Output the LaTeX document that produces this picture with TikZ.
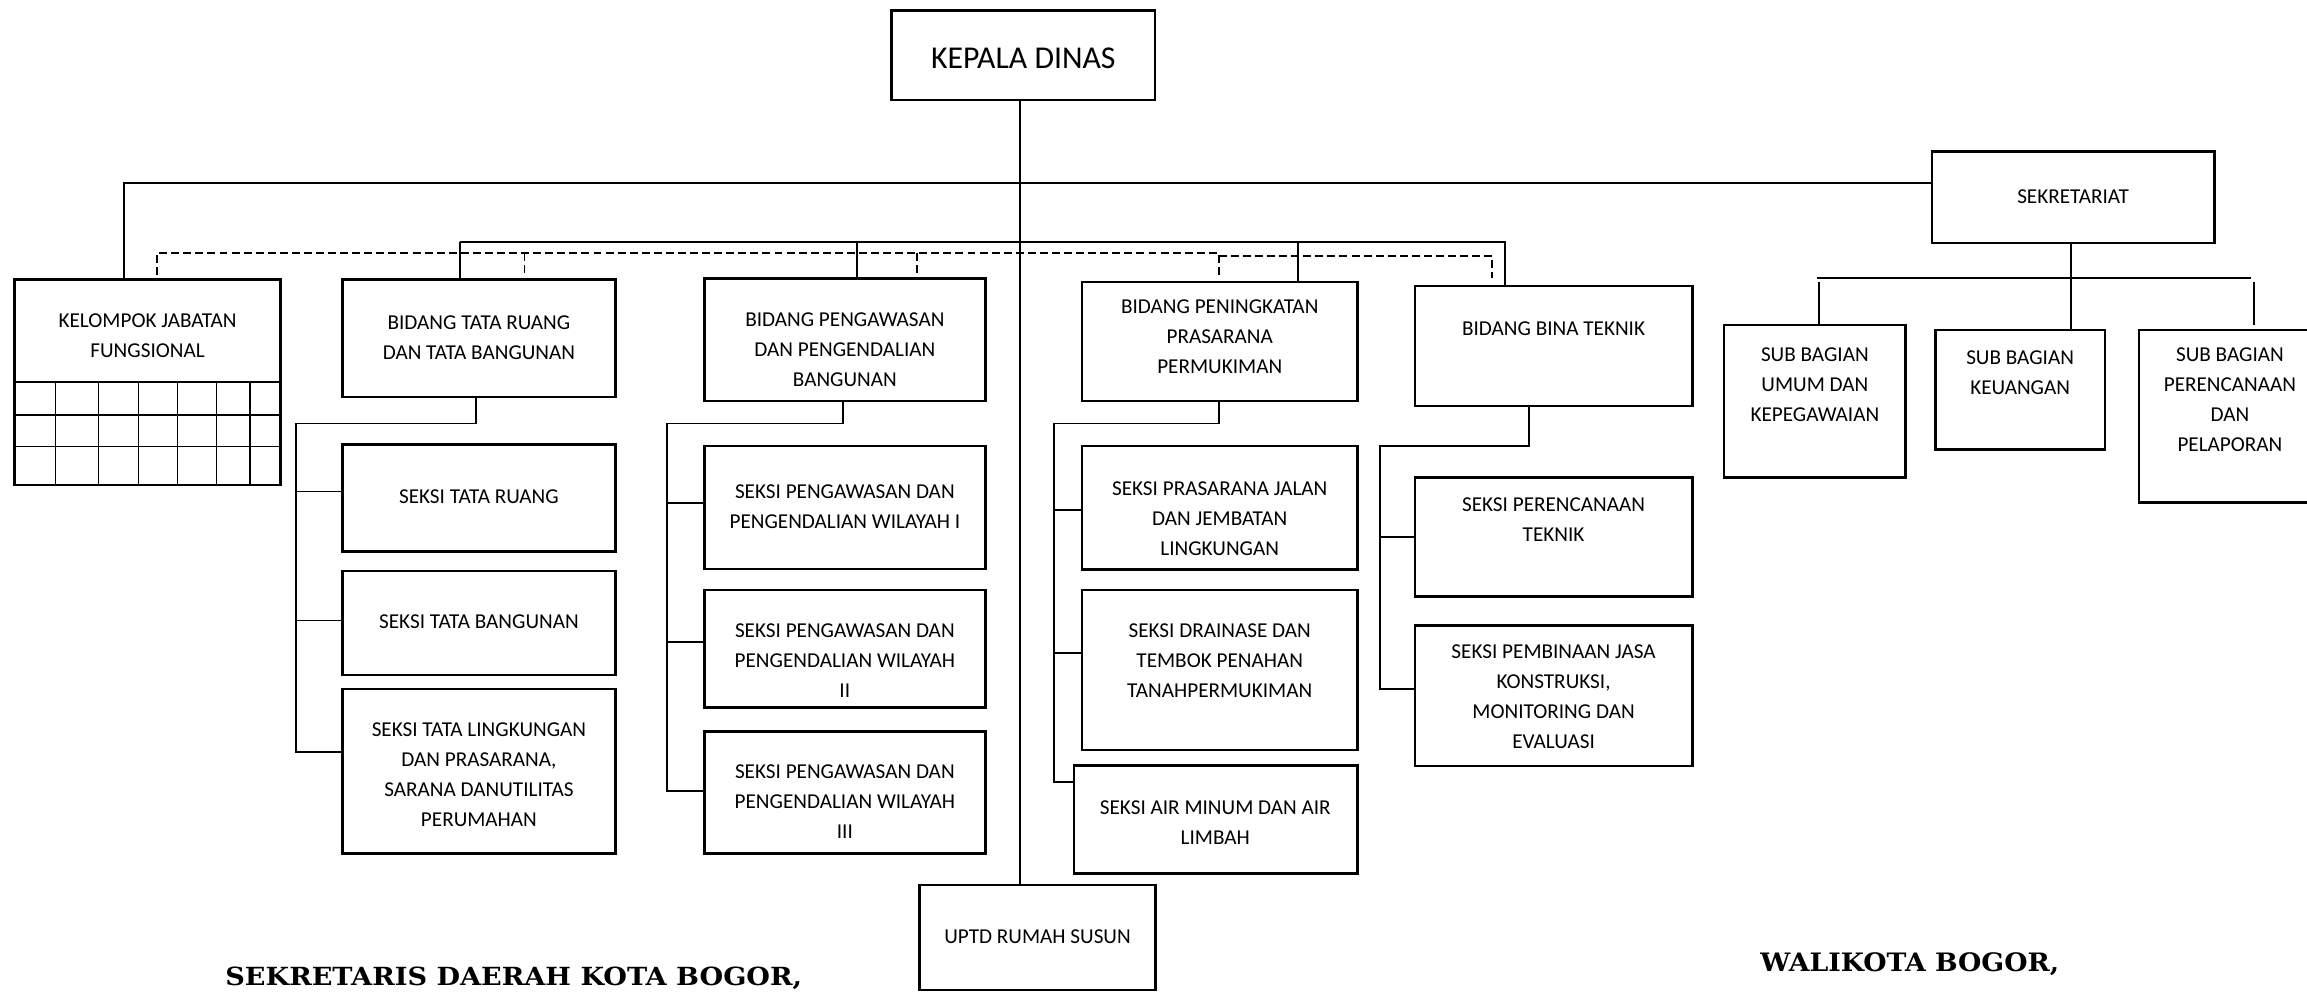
\documentclass[tikz,border=0pt]{standalone}
\usepackage{graphicx}
\usepackage{fontspec}
\setmainfont{Carlito}
\newfontfamily\sigfont{DejaVu Serif}
\newcommand\orgbox[5]{\node[orgb, minimum width={(#4-#2)*0.5pt}, minimum height={(#5-#3)*0.5pt}, anchor=north west] (#1) at (#2,#3) {};}
\newcommand\orgtxt[4]{\node[orgt] (#1) at (#2,#3) {#4};}
\begin{document}
\begin{tikzpicture}[x=0.5pt,y=-0.5pt,
  orgb/.style={draw, line width=0.85pt, inner sep=0pt, outer sep=0pt},
  orgt/.style={font=\fontsize{7.2}{10.2}\selectfont, align=center, inner sep=0pt},
  conn/.style={line width=0.6pt},
  dsh/.style={line width=0.65pt, dash pattern=on 2.7pt off 1.4pt},
  gridl/.style={line width=0.5pt}]
\useasboundingbox (0,0) rectangle (1568,674);
\clip (0,0) rectangle (1568,674);
% boxes
\orgbox{kd}{606}{7}{785}{68}
\orgbox{sek}{1313}{103}{1505}{165}
\orgbox{kjft}{10}{190}{190.6}{259.5}
\orgbox{kjfg}{10}{259.5}{190.6}{329.7}
\orgbox{btr}{232.8}{190}{418.3}{269.7}
\orgbox{bpk}{478.7}{189.4}{669.7}{272.4}
\orgbox{bpp}{735.5}{191.5}{922.5}{272.6}
\orgbox{bbt}{961.6}{194.4}{1150.2}{276}
\orgbox{sbu}{1171.7}{220.9}{1295.2}{324.7}
\orgbox{sbk}{1315.6}{224.3}{1430.6}{305.5}
\orgbox{sbp}{1453.9}{224.3}{1580}{341.7}
\orgbox{str}{232.8}{302}{418.3}{374.9}
\orgbox{stb}{232.8}{388}{418.3}{458.8}
\orgbox{stl}{232.8}{468.3}{418.3}{580}
\orgbox{sp1}{478.7}{303.2}{669.7}{386.7}
\orgbox{sp2}{478.7}{401}{669.7}{481}
\orgbox{sp3}{478.7}{497.3}{669.7}{580}
\orgbox{spj}{735.5}{303.2}{922.5}{386.9}
\orgbox{sdr}{735.5}{401}{922.5}{509.8}
\orgbox{sam}{729.9}{520.4}{922.5}{593.6}
\orgbox{spt}{961.6}{324.5}{1150.2}{405.5}
\orgbox{spb}{961.6}{425.2}{1150.2}{520.6}
\orgbox{uptd}{625}{601.5}{785.4}{673}
% grid of kelompok jabatan fungsional
\foreach \yy in {282,303.6} \draw[gridl] (kjfg.west |- 0,\yy) -- (kjfg.east |- 0,\yy);
\foreach \xx in {37.7,66.9,94,120.7,147.3,170} \draw[gridl] (kjfg.north -| \xx,0) -- (kjfg.south -| \xx,0);
% texts
\orgtxt{tkd}{695.5}{39.5}{\fontsize{10.8}{13}\selectfont KEPALA DINAS}
\orgtxt{tsek}{1409}{133.7}{SEKRETARIAT}
\orgtxt{tkjf}{100.3}{228}{KELOMPOK JABATAN\\FUNGSIONAL}
\orgtxt{tbtr}{325.5}{229.2}{BIDANG TATA RUANG\\DAN TATA BANGUNAN}
\orgtxt{tbpk}{574.2}{237.5}{BIDANG PENGAWASAN\\DAN PENGENDALIAN\\BANGUNAN}
\orgtxt{tbpp}{829}{228.9}{BIDANG PENINGKATAN\\PRASARANA\\PERMUKIMAN}
\orgtxt{tbbt}{1055.9}{223.2}{BIDANG BINA TEKNIK}
\orgtxt{tsbu}{1233.5}{261.7}{SUB BAGIAN\\UMUM DAN\\KEPEGAWAIAN}
\orgtxt{tsbk}{1373}{253.2}{SUB BAGIAN\\KEUANGAN}
\orgtxt{tsbp}{1515.6}{271.9}{SUB BAGIAN\\PERENCANAAN\\DAN\\PELAPORAN}
\orgtxt{tstr}{325.5}{337.5}{SEKSI TATA RUANG}
\orgtxt{tstb}{325.5}{422.5}{SEKSI TATA BANGUNAN}
\orgtxt{tstl}{325.5}{526.7}{SEKSI TATA LINGKUNGAN\\DAN PRASARANA,\\SARANA DANUTILITAS\\PERUMAHAN}
\orgtxt{tsp1}{574.2}{344.3}{SEKSI PENGAWASAN DAN\\PENGENDALIAN WILAYAH I}
\orgtxt{tsp2}{574.2}{449.3}{SEKSI PENGAWASAN DAN\\PENGENDALIAN WILAYAH\\II}
\orgtxt{tsp3}{574.2}{545}{SEKSI PENGAWASAN DAN\\PENGENDALIAN WILAYAH\\III}
\orgtxt{tspj}{829}{352.3}{SEKSI PRASARANA JALAN\\DAN JEMBATAN\\LINGKUNGAN}
\orgtxt{tsdr}{829}{449.2}{SEKSI DRAINASE DAN\\TEMBOK PENAHAN\\TANAHPERMUKIMAN}
\orgtxt{tsam}{826}{559}{SEKSI AIR MINUM DAN AIR\\LIMBAH}
\orgtxt{tspt}{1055.9}{353.4}{SEKSI PERENCANAAN\\TEKNIK}
\orgtxt{tspb}{1055.9}{473.2}{SEKSI PEMBINAAN JASA\\KONSTRUKSI,\\MONITORING DAN\\EVALUASI}
\orgtxt{tuptd}{705.2}{636.6}{UPTD RUMAH SUSUN}
% signatures
\node[inner sep=0pt, anchor=base] (sig1) at (349.2,669.5) {\resizebox{196pt}{6.3pt}{\sigfont\bfseries SEKRETARIS DAERAH KOTA BOGOR,}};
\node[inner sep=0pt, anchor=base] (sig2) at (1298,660.5) {\resizebox{101.5pt}{6.4pt}{\sigfont\bfseries WALIKOTA BOGOR,}};
% connectors
\draw[conn] ([xshift=-1.05pt]kd.south) -- ([xshift=-1.05pt]kd.south |- uptd.north);
\draw[conn] ([xshift=-7.9pt]kjft.north) |- ([yshift=4.9pt]sek.west);
\coordinate (bar) at (312.7,164.5);
\draw[conn] ([xshift=-6.4pt]btr.north) |- (bar) -| ([xshift=-16.6pt]bbt.north);
\draw[conn] ([xshift=4.05pt]bpk.north) -- ([xshift=4.05pt]bpk.north |- bar);
\draw[conn] ([xshift=26.6pt]bpp.north) -- ([xshift=26.6pt]bpp.north |- bar);
% dashed coordination line
\coordinate (d0) at (106.6,187);
\draw[dsh] (d0) -- (106.6,172.2) -- (828.4,172.2) -- (828.4,189);
\draw[dsh] (356.5,172.2) -- (356.5,187);
\draw[dsh] (623,172.2) -- (623,187);
\draw[dsh] (828.4,174) -- (1014.2,174) -- (1014.2,189);
% tata ruang tree
\coordinate (tr) at (201.1,287.8);
\draw[conn] ([xshift=-1.1pt]btr.south) |- (tr) |- ([yshift=6.6pt]stl.west);
\draw[conn] ([yshift=2.2pt]str.west) -- ++(-31.7,0);
\draw[conn] ([yshift=0.8pt]stb.west) -- ++(-31.7,0);
% pengawasan tree
\coordinate (pk) at (453.5,287.8);
\draw[conn] ([xshift=-0.75pt]bpk.south) |- (pk) |- ([yshift=0.6pt]sp3.west);
\draw[conn] ([yshift=1.5pt]sp1.west) -- ++(-25.2,0);
\draw[conn] ([yshift=2.45pt]sp2.west) -- ++(-25.2,0);
% peningkatan tree
\coordinate (pp) at (716.3,287.8);
\draw[conn] ([xshift=-0.3pt]bpp.south) |- (pp) |- ([yshift=12.85pt]sam.west);
\draw[conn] ([yshift=-0.78pt]spj.west) -- ++(-19.2,0);
\draw[conn] ([yshift=5.7pt]sdr.west) -- ++(-19.2,0);
% bina teknik tree
\coordinate (bt) at (937.8,303.2);
\draw[conn] ([xshift=-8.45pt]bbt.south) |- (bt) |- ([yshift=2.3pt]spb.west);
\draw[conn] (spt.west) -- ++(-23.8,0);
% sekretariat tree
\draw[conn] ([xshift=-0.8pt]sek.south) -- ([xshift=-0.8pt]sek.south |- sbk.north);
\coordinate (sh) at (1235,188.8);
\draw[conn] (sh) -- (1529.8,188.8);
\draw[conn] ([xshift=1.4pt]sbu.north) -- ++(0,-29.4);
\draw[conn] ([xshift=7.5pt,yshift=1.7pt]sbp.north) -- ++(0,-29.4);
\end{tikzpicture}
\end{document}
